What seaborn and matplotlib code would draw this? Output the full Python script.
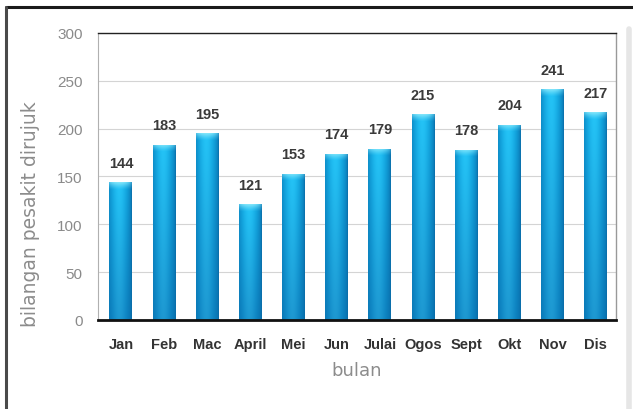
import numpy as np
import pandas as pd
import matplotlib
matplotlib.use("Agg")
import matplotlib.pyplot as plt
from matplotlib.colors import to_rgb
from matplotlib.lines import Line2D
import seaborn as sns

months = ["Jan", "Feb", "Mac", "April", "Mei", "Jun", "Julai", "Ogos", "Sept", "Okt", "Nov", "Dis"]
values = [144, 183, 195, 121, 153, 174, 179, 215, 178, 204, 241, 217]
yticks = [0, 50, 100, 150, 200, 250, 300]

df = pd.DataFrame({"bulan": months, "nilai": values})

sns.set_theme(style="white")
plt.rcParams["font.family"] = ["Liberation Sans", "DejaVu Sans"]

fig = plt.figure(figsize=(6.33, 4.10), dpi=100)
ax = fig.add_axes([98 / 633, 1 - 321 / 410, (616 - 98) / 633, (321 - 34) / 410])

sns.barplot(data=df, x="bulan", y="nilai", order=months, color="#1596d6",
            width=0.53, ax=ax, zorder=3)

edge = np.array(to_rgb("#0a6aa6"))
mid = np.array(to_rgb("#1aa6e4"))
hi = np.array(to_rgb("#2cb8ef"))
capc = np.array(to_rgb("#80e4fa"))
topt = np.array(to_rgb("#12b2ec"))
bott = np.array(to_rgb("#0c86c6"))

ncol = 64
xs = np.linspace(0, 1, ncol)
prof = np.clip(1 - ((xs - 0.45) / 0.55) ** 2, 0, 1)

for p in list(ax.patches):
    x0, w, h = p.get_x(), p.get_width(), p.get_height()
    p.set_facecolor("none")
    p.set_edgecolor("none")
    nrow = max(int(h / 300 * 287), 2)
    img = np.zeros((nrow, ncol, 3))
    for r in range(nrow):
        fy = 1 - r / (nrow - 1)
        base = bott + (topt - bott) * fy
        row = edge[None, :] + (base[None, :] - edge[None, :]) * (prof[:, None] ** 0.6)
        row = row + (hi - mid)[None, :] * (prof[:, None] ** 4)
        if r < 7:
            a = (1 - r / 7.0) ** 1.3 * (0.35 + 0.65 * prof[:, None])
            row = row + (capc[None, :] - row) * a
        img[r] = np.clip(row, 0, 1)
    im = ax.imshow(img, aspect="auto", extent=[x0, x0 + w, 0, h],
                   zorder=3.5, interpolation="bilinear", origin="upper")
    im.set_clip_path(p)

for i, v in enumerate(values):
    ax.annotate(str(v), (i, v), xytext=(0, 9), textcoords="offset points",
                ha="center", va="bottom", fontsize=10.5, fontweight="bold",
                color="#3a3a3a", zorder=5)

ax.set_xlim(-0.53, 11.47)
ax.set_ylim(0, 300)
ax.set_yticks(yticks)
ax.set_yticklabels([str(t) for t in yticks])
ax.yaxis.grid(True, color="#d4d4d4", linewidth=0.8, zorder=0)
ax.set_axisbelow(True)

ax.tick_params(axis="x", length=0, pad=12, labelsize=10.5, labelcolor="#333333")
for lab in ax.get_xticklabels():
    lab.set_fontweight("bold")
ax.tick_params(axis="y", length=0, pad=11, labelsize=11, labelcolor="#8a8a8a")

ax.set_xlabel("")
ax.set_ylabel("")
fig.text(357 / 633, 1 - 371 / 410, "bulan", fontsize=13, color="#8c8c8c",
         family="DejaVu Sans", ha="center", va="center")
fig.text(31 / 633, 1 - 214 / 410, "bilangan pesakit dirujuk", fontsize=13.5,
         color="#8c8c8c", family="DejaVu Sans", rotation=90, ha="center", va="center")

ax.spines["top"].set_color("#222222")
ax.spines["top"].set_linewidth(1.0)
ax.spines["right"].set_color("#999999")
ax.spines["right"].set_linewidth(1.0)
ax.spines["left"].set_color("#b0b0b0")
ax.spines["left"].set_linewidth(0.8)
ax.spines["bottom"].set_color("#111111")
ax.spines["bottom"].set_linewidth(2.0)
for s in ax.spines.values():
    s.set_visible(True)
    s.set_zorder(6)

fig.add_artist(Line2D([6 / 633, 1.0], [1 - 8 / 410, 1 - 8 / 410], color="#1a1a1a",
                      linewidth=2.2, transform=fig.transFigure))
fig.add_artist(Line2D([6 / 633, 6 / 633], [0, 1 - 8 / 410], color="#4a4a4a",
                      linewidth=2.2, transform=fig.transFigure))
fig.add_artist(Line2D([629 / 633, 629 / 633], [0, 1 - 30 / 410], color="#e6e6e6",
                      linewidth=4, transform=fig.transFigure))

fig.savefig("out.png", dpi=100)
